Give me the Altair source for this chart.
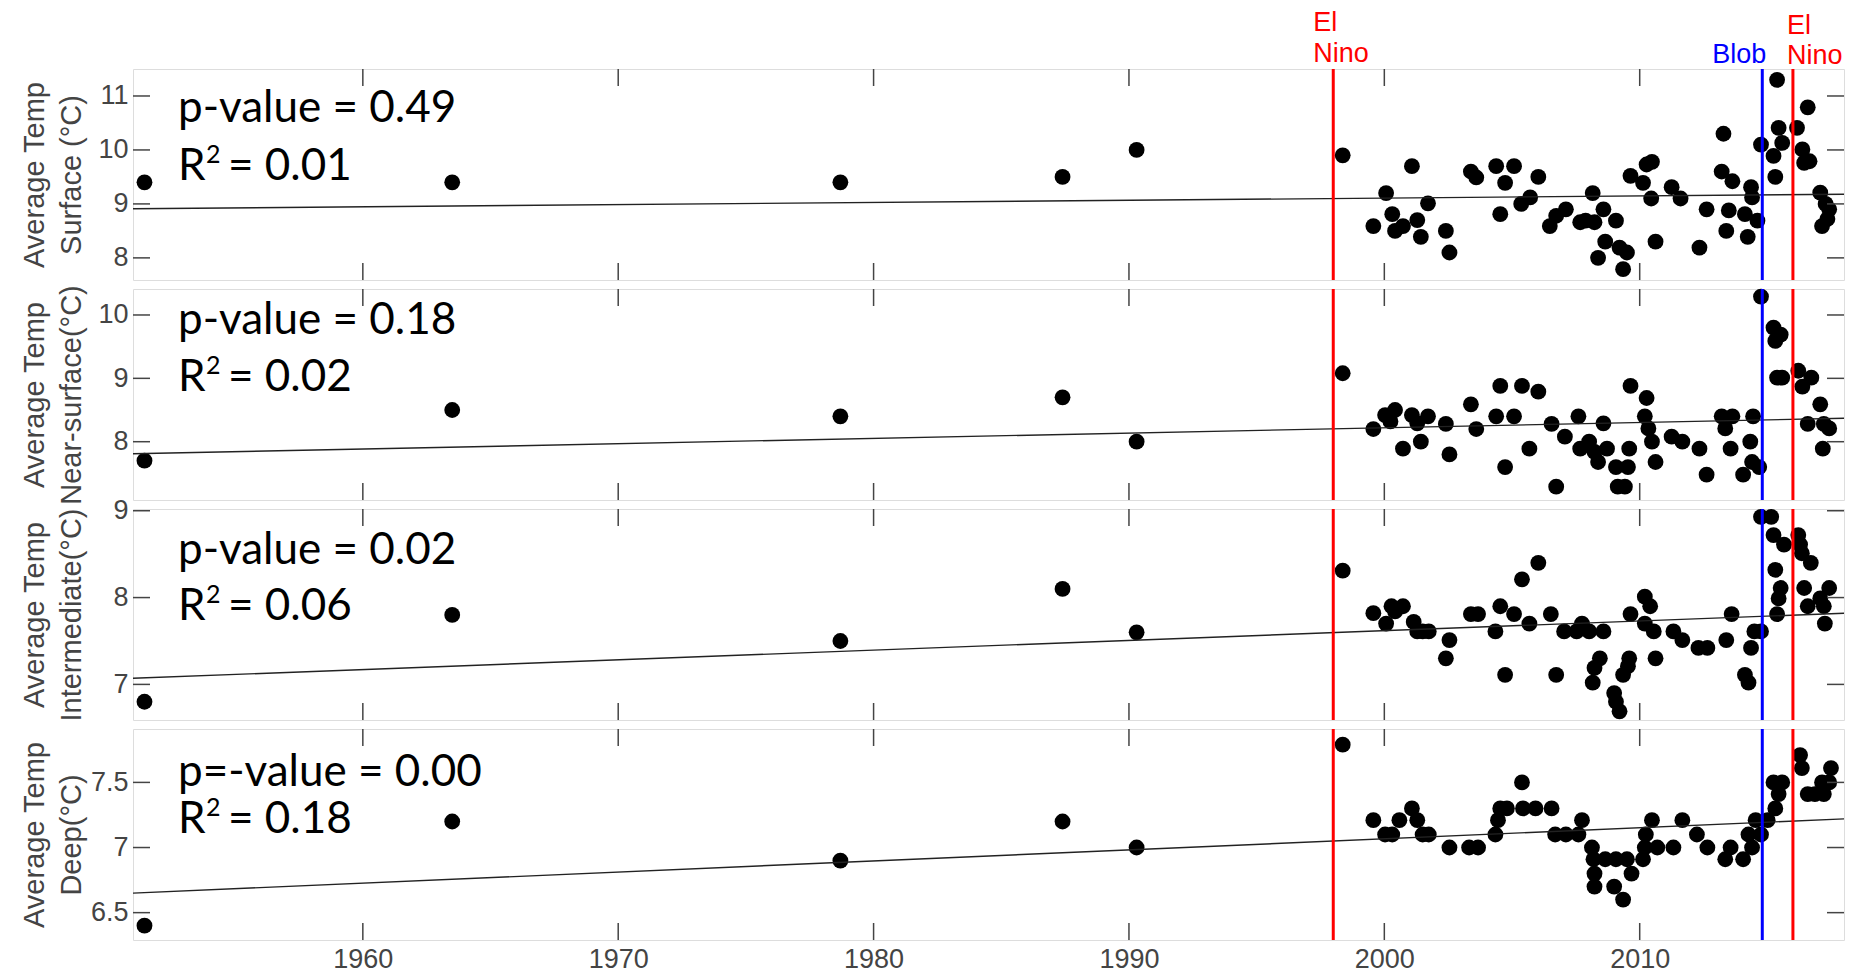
import altair as alt
import pandas as pd

# ---------------- data ----------------
x_domain = [1951, 2018]
x_tick_years = [1960, 1970, 1980, 1990, 2000, 2010]

early_years = [1951.45, 1963.5, 1978.7, 1987.4, 1990.3]

surface_year = early_years + [
    1998.37, 1999.57, 2000.07, 2000.31, 2000.42, 2000.73, 2001.08, 2001.29, 2001.43, 2001.71,
    2002.41, 2002.55, 2003.39, 2003.60, 2004.38, 2004.54, 2004.73, 2005.08, 2005.36, 2005.71,
    2006.03, 2006.48, 2006.73, 2007.11, 2007.67, 2007.88, 2008.16, 2008.23, 2008.37, 2008.58,
    2008.65, 2009.07, 2009.21, 2009.35, 2009.50, 2009.64, 2010.13, 2010.27, 2010.48, 2010.45,
    2010.62, 2011.25, 2011.60, 2012.34, 2012.62, 2013.28, 2013.21, 2013.49, 2013.39, 2013.63,
    2014.12, 2014.23, 2014.36, 2014.40, 2014.61, 2014.75, 2015.24, 2015.31, 2015.38, 2015.44,
    2015.58, 2016.16, 2016.37, 2016.44, 2016.58, 2016.65, 2017.07, 2017.28, 2017.42, 2017.14,
    2017.35]
surface_temp = [9.4, 9.4, 9.4, 9.5, 10.0] + [
    9.90, 8.59, 9.20, 8.81, 8.50, 8.59, 9.70, 8.70, 8.39, 9.01,
    8.50, 8.10, 9.60, 9.49, 9.70, 8.81, 9.39, 9.70, 9.00, 9.12,
    9.50, 8.59, 8.78, 8.90, 8.66, 8.69, 9.20, 8.66, 8.00, 8.90,
    8.30, 8.69, 8.19, 7.79, 8.10, 9.52, 9.39, 9.73, 9.78, 9.10,
    8.30, 9.31, 9.10, 8.19, 8.90, 10.30, 9.60, 8.88, 8.50, 9.42,
    8.81, 8.39, 9.31, 9.12, 8.69, 10.10, 9.89, 9.50, 11.30, 10.41,
    10.13, 10.41, 10.01, 9.76, 10.79, 9.79, 9.21, 9.00, 8.90, 8.59,
    8.72]

near_year = early_years + [
    1998.37, 1999.57, 2000.03, 2000.24, 2000.42, 2000.73, 2001.08, 2001.29, 2001.43, 2001.71,
    2002.41, 2002.55, 2003.39, 2003.60, 2004.38, 2004.54, 2004.73, 2005.08, 2005.39, 2005.68,
    2006.03, 2006.55, 2006.73, 2007.07, 2007.60, 2007.67, 2008.02, 2008.23, 2008.37, 2008.58,
    2008.72, 2009.07, 2009.14, 2009.42, 2009.54, 2009.59, 2009.64, 2010.20, 2010.27, 2010.34,
    2010.48, 2010.62, 2011.25, 2011.67, 2012.34, 2012.62, 2013.21, 2013.35, 2013.56, 2013.63,
    2014.05, 2014.33, 2014.40, 2014.44, 2014.68, 2014.75, 2015.24, 2015.31, 2015.52, 2015.38,
    2015.58, 2016.21, 2016.37, 2016.72, 2016.58, 2017.07, 2017.21, 2017.42, 2017.17]
near_temp = [7.7, 8.5, 8.4, 8.7, 8.0] + [
    9.08, 8.20, 8.42, 8.32, 8.50, 7.89, 8.42, 8.29, 8.00, 8.40,
    8.28, 7.80, 8.59, 8.20, 8.40, 8.88, 7.60, 8.40, 8.88, 7.89,
    8.79, 8.28, 7.29, 8.08, 8.40, 7.89, 8.00, 7.84, 7.68, 8.29,
    7.89, 7.60, 7.29, 7.29, 7.60, 7.89, 8.88, 8.40, 8.69, 8.21,
    8.00, 7.68, 8.08, 8.00, 7.89, 7.48, 8.40, 8.21, 7.89, 8.40,
    7.48, 8.00, 7.68, 8.40, 7.60, 10.29, 9.80, 9.59, 9.69, 9.01,
    9.01, 9.12, 8.87, 9.01, 8.28, 8.59, 8.28, 8.21, 7.89]

inter_year = early_years + [
    1998.37, 1999.57, 2000.07, 2000.28, 2000.42, 2000.73, 2001.15, 2001.29, 2001.50, 2001.74,
    2002.55, 2002.41, 2003.39, 2003.67, 2004.35, 2004.54, 2004.73, 2005.08, 2005.39, 2005.68,
    2006.03, 2006.52, 2006.73, 2007.04, 2007.53, 2007.74, 2008.02, 2008.16, 2008.23, 2008.44,
    2008.58, 2009.00, 2009.07, 2009.21, 2009.35, 2009.54, 2009.59, 2009.64, 2010.20, 2010.41,
    2010.20, 2010.55, 2010.62, 2011.32, 2011.67, 2012.30, 2012.65, 2013.39, 2013.60, 2014.12,
    2014.26, 2014.36, 2014.49, 2014.75, 2014.75, 2015.15, 2015.24, 2015.38, 2015.44, 2015.52,
    2015.31, 2015.65, 2016.21, 2016.28, 2016.35, 2016.44, 2016.58, 2016.70, 2017.07, 2017.21,
    2017.25, 2017.42]
inter_temp = [6.8, 7.8, 7.5, 8.1, 7.6] + [
    8.31, 7.82, 7.70, 7.90, 7.84, 7.90, 7.72, 7.61, 7.61, 7.61,
    7.51, 7.30, 7.81, 7.81, 7.61, 7.90, 7.11, 7.81, 8.21, 7.70,
    8.40, 7.81, 7.11, 7.61, 7.61, 7.70, 7.61, 7.02, 7.19, 7.30,
    7.61, 6.90, 6.80, 6.69, 7.11, 7.21, 7.30, 7.81, 8.01, 7.90,
    7.70, 7.61, 7.30, 7.61, 7.51, 7.42, 7.42, 7.51, 7.81, 7.11,
    7.02, 7.42, 7.61, 7.61, 8.93, 8.93, 8.72, 7.81, 7.99, 8.11,
    8.32, 8.61, 8.72, 8.61, 8.51, 8.11, 7.90, 8.40, 7.99, 7.90,
    7.70, 8.11]

deep_year = early_years + [
    1998.37, 1999.57, 2000.03, 2000.31, 2000.59, 2001.08, 2001.29, 2001.50, 2001.74, 2002.55,
    2003.32, 2003.67, 2004.35, 2004.45, 2004.54, 2004.80, 2005.39, 2005.43, 2005.92, 2006.55,
    2006.69, 2007.11, 2007.74, 2007.60, 2008.13, 2008.19, 2008.23, 2008.23, 2008.65, 2009.07,
    2009.00, 2009.35, 2009.50, 2009.68, 2010.13, 2010.20, 2010.24, 2010.48, 2010.69, 2011.32,
    2011.67, 2012.24, 2012.65, 2013.35, 2013.56, 2014.05, 2014.26, 2014.40, 2014.54, 2014.75,
    2015.01, 2015.31, 2015.44, 2015.24, 2015.58, 2016.28, 2016.35, 2016.58, 2016.86, 2017.14,
    2017.21, 2017.49, 2017.42]
deep_temp = [6.4, 7.2, 6.9, 7.2, 7.0] + [
    7.79, 7.21, 7.10, 7.10, 7.21, 7.30, 7.21, 7.10, 7.10, 7.00,
    7.00, 7.00, 7.10, 7.21, 7.30, 7.30, 7.50, 7.30, 7.30, 7.30,
    7.10, 7.10, 7.21, 7.10, 7.00, 6.91, 6.80, 6.70, 6.91, 6.91,
    6.70, 6.60, 6.91, 6.80, 6.91, 7.00, 7.10, 7.21, 7.00, 7.00,
    7.21, 7.10, 7.00, 6.91, 7.00, 6.91, 7.10, 7.00, 7.21, 7.10,
    7.21, 7.30, 7.41, 7.50, 7.50, 7.71, 7.61, 7.41, 7.41, 7.50,
    7.41, 7.61, 7.50]

# regression lines (value at start and end of the x range)
surface_fit = [8.91, 9.18]
near_fit = [7.81, 8.37]
inter_fit = [7.07, 7.82]
deep_fit = [6.65, 7.22]

surface_domain = [7.59, 11.5]
near_domain = [7.08, 10.41]
inter_domain = [6.59, 9.02]
deep_domain = [6.29, 7.91]

surface_ticks = [8, 9, 10, 11]
near_ticks = [8, 9, 10]
inter_ticks = [7, 8, 9]
deep_ticks = [6.5, 7, 7.5]

event_years = [1998.0, 2014.8, 2016.0]
event_kind = ["El Nino", "Blob", "El Nino"]
event_label = ["El\nNino", "Blob", "El\nNino"]

titles = [["Average Temp", "Surface (°C)"], ["Average Temp", "Near-surface(°C)"],
          ["Average Temp", "Intermediate(°C)"], ["Average Temp", "Deep(°C)"]]
p_texts = ["p-value = 0.49", "p-value = 0.18", "p-value = 0.02", "p=-value = 0.00"]
r_values = ["= 0.01", "= 0.02", "= 0.06", "= 0.18"]

# ---------------- styling ----------------
W = 1711
H = 211
TICK = 17
AX_COLOR = "#444444"
LABEL_FONT = "Liberation Sans"
ANN_FONT = "Lato"
ANN_SIZE = 44

xscale = alt.Scale(domain=x_domain, nice=False, zero=False)
color_scale = alt.Scale(domain=["El Nino", "Blob"], range=["#ff0000", "#0000ff"])


def ann(text, x, y, size=ANN_SIZE):
    df = pd.DataFrame({"t": [text]})
    return alt.Chart(df).mark_text(
        font=ANN_FONT, fontSize=size, align="left", baseline="alphabetic", color="black"
    ).encode(text="t:N", x=alt.value(x), y=alt.value(y))


def panel(years, temps, ydom, yticks, fit, title, ptxt, rval, pbase, rbase,
          show_x=False, show_events_text=False):
    df = pd.DataFrame({"year": years, "temp": temps})
    yscale = alt.Scale(domain=ydom, nice=False, zero=False)
    if show_x:
        xaxis = alt.Axis(values=x_tick_years, format="d", ticks=False, domain=False, grid=False,
                         labelFontSize=27, labelFont=LABEL_FONT, labelColor=AX_COLOR,
                         labelPadding=6, title=None)
    else:
        xaxis = None
    yaxis = alt.Axis(values=yticks, format="~g", ticks=False, domain=False, grid=False,
                     labelFontSize=27, labelFont=LABEL_FONT, labelColor=AX_COLOR,
                     labelPadding=5, title=title, titleFont=LABEL_FONT, titleFontSize=29,
                     titleFontWeight="normal", titleColor=AX_COLOR, titleAngle=270,
                     titleX=-99, titleY=H / 2, titleBaseline="middle", titleAlign="center",
                     titleLineHeight=37)

    points = alt.Chart(df).mark_circle(size=250, color="black", opacity=1).encode(
        x=alt.X("year:Q", scale=xscale, axis=xaxis),
        y=alt.Y("temp:Q", scale=yscale, axis=yaxis),
    )
    fit_df = pd.DataFrame({"year": x_domain, "temp": fit})
    fit_line = alt.Chart(fit_df).mark_line(color="#222222", strokeWidth=1.4).encode(
        x=alt.X("year:Q", scale=xscale), y=alt.Y("temp:Q", scale=yscale))

    ev_df = pd.DataFrame({"year": event_years, "kind": event_kind, "label": event_label})
    events = alt.Chart(ev_df).mark_rule(strokeWidth=3).encode(
        x=alt.X("year:Q", scale=xscale),
        y=alt.value(0), y2=alt.value(H),
        color=alt.Color("kind:N", scale=color_scale, legend=None))

    yt_df = pd.DataFrame({"v": yticks})
    ytick_l = alt.Chart(yt_df).mark_rule(color=AX_COLOR, strokeWidth=1.5).encode(
        y=alt.Y("v:Q", scale=yscale), x=alt.value(0), x2=alt.value(TICK))
    ytick_r = alt.Chart(yt_df).mark_rule(color=AX_COLOR, strokeWidth=1.5).encode(
        y=alt.Y("v:Q", scale=yscale), x=alt.value(W - TICK), x2=alt.value(W))
    xt_df = pd.DataFrame({"v": x_tick_years})
    xtick_t = alt.Chart(xt_df).mark_rule(color=AX_COLOR, strokeWidth=1.5).encode(
        x=alt.X("v:Q", scale=xscale), y=alt.value(0), y2=alt.value(TICK))
    xtick_b = alt.Chart(xt_df).mark_rule(color=AX_COLOR, strokeWidth=1.5).encode(
        x=alt.X("v:Q", scale=xscale), y=alt.value(H - TICK), y2=alt.value(H))

    ptext = ann(ptxt, 45, pbase)
    r_main = ann("R", 45, rbase)
    r_sup = ann("2", 73, rbase - 17, size=25)
    r_val = ann(rval, 95, rbase)

    layers = [points, fit_line, events, ytick_l, ytick_r, xtick_t, xtick_b,
              ptext, r_main, r_sup, r_val]

    if show_events_text:
        el1 = alt.Chart(ev_df).transform_filter(alt.datum.year < 2000).mark_text(
            font=LABEL_FONT, fontSize=27, align="left", baseline="alphabetic",
            lineBreak="\n", lineHeight=31, dx=-20, color="#ff0000").encode(
            x=alt.X("year:Q", scale=xscale), y=alt.value(-38), text="label:N")
        blob = alt.Chart(ev_df).transform_filter(alt.datum.kind == "Blob").mark_text(
            font=LABEL_FONT, fontSize=27, align="right", baseline="alphabetic",
            dx=4, color="#0000ff").encode(
            x=alt.X("year:Q", scale=xscale), y=alt.value(-6), text="label:N")
        el2 = alt.Chart(ev_df).transform_filter(alt.datum.year > 2015).mark_text(
            font=LABEL_FONT, fontSize=27, align="left", baseline="alphabetic",
            lineBreak="\n", lineHeight=30, dx=-6, color="#ff0000").encode(
            x=alt.X("year:Q", scale=xscale), y=alt.value(-35), text="label:N")
        layers += [el1, blob, el2]

    return alt.layer(*layers).properties(width=W, height=H)


p1 = panel(surface_year, surface_temp, surface_domain, surface_ticks, surface_fit, titles[0],
           p_texts[0], r_values[0], 53, 111, show_events_text=True)
p2 = panel(near_year, near_temp, near_domain, near_ticks, near_fit, titles[1],
           p_texts[1], r_values[1], 45, 102)
p3 = panel(inter_year, inter_temp, inter_domain, inter_ticks, inter_fit, titles[2],
           p_texts[2], r_values[2], 55, 111)
p4 = panel(deep_year, deep_temp, deep_domain, deep_ticks, deep_fit, titles[3],
           p_texts[3], r_values[3], 57, 104, show_x=True)

chart = alt.vconcat(p1, p2, p3, p4, spacing=9, bounds="flush").properties(
    padding={"left": 11, "top": 0, "right": 5, "bottom": 0}
).configure_view(stroke=AX_COLOR, strokeWidth=1.5).configure(background="white")

chart.save("out.html", embed_options={"renderer": "svg", "actions": False})
